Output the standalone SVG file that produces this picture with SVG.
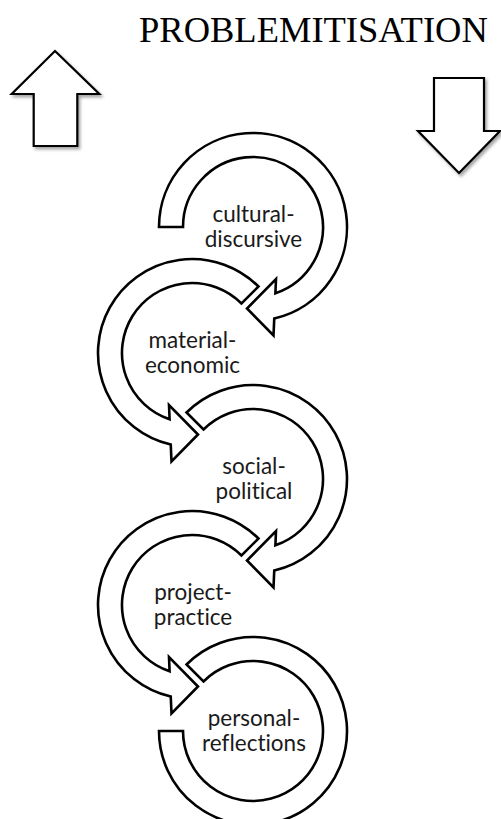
<svg xmlns="http://www.w3.org/2000/svg" width="501" height="819" viewBox="0 0 501 819">
  <style>
    .ring { fill: #fff; stroke: #000; stroke-width: 2.6; stroke-linejoin: miter; }
    .block { fill: #fff; stroke: #000; stroke-width: 2.2; stroke-linejoin: miter; }
    .label { font-family: Lato, "Liberation Sans", sans-serif; font-size: 22.5px; fill: #1a1a1a; text-anchor: middle; font-variant-ligatures: none; font-feature-settings: "liga" 0, "clig" 0; }
    .title { font-family: "Liberation Serif", "Times New Roman", serif; font-size: 36.5px; fill: #000; }
  </style>
  <defs>
    <filter id="soft-shadow" x="-20%" y="-20%" width="150%" height="150%">
      <feDropShadow dx="2" dy="2.5" stdDeviation="1.6" flood-color="#000" flood-opacity="0.35"/>
    </filter>
    <!-- ring that turns clockwise, tail cut radially at 225 degrees, head at the bottom -->
    <path id="ring-cw" d="M -66.47 -66.47 A 94 94 0 1 1 21.25 91.57 L 20.5 108.5 L -6 81.5 L 23 52 L 22.4 66.3 A 70 70 0 1 0 -49.5 -49.5 Z"/>
  </defs>

  <rect width="501" height="819" fill="#fff"/>

  <text class="title" x="139" y="42">PROBLEMITISATION</text>

  <g id="arrow-up" filter="url(#soft-shadow)">
    <path class="block" d="M 55 51 L 99.3 94 L 77.3 94 L 77.3 146 L 33.7 146 L 33.7 94 L 11.7 94 Z"/>
  </g>
  <g id="arrow-down" filter="url(#soft-shadow)">
    <path class="block" d="M 434 78 L 484 78 L 484 131 L 500 131 L 459 173 L 418 131 L 434 131 Z"/>
  </g>

  <g id="connectors">
    <!-- cultural-discursive: tail at the left, clockwise to the head -->
    <path class="ring" transform="translate(253,227)" d="M -94 0 A 94 94 0 1 1 21.25 91.57 L 20.5 108.5 L -6 81.5 L 23 52 L 22.4 66.3 A 70 70 0 1 0 -70 0 Z"/>
    <!-- material-economic: mirrored, counter-clockwise -->
    <use href="#ring-cw" class="ring" transform="translate(192,353) scale(-1,1)"/>
    <!-- social-political -->
    <use href="#ring-cw" class="ring" transform="translate(253,479)"/>
    <!-- project-practice: mirrored -->
    <use href="#ring-cw" class="ring" transform="translate(192,605) scale(-1,1)"/>
    <!-- personal-reflections: closing arc with a flat end -->
    <path class="ring" transform="translate(253,731)" d="M -66.47 -66.47 A 94 94 0 1 1 -94 0 L -70 0 A 70 70 0 1 0 -49.5 -49.5 Z"/>
  </g>

  <g id="node-cultural-discursive">
    <text class="label" x="253.5" y="221.5">cultural-</text>
    <text class="label" x="253.5" y="247">discursive</text>
  </g>
  <g id="node-material-economic">
    <text class="label" x="192.5" y="347.5">material-</text>
    <text class="label" x="192.5" y="373">economic</text>
  </g>
  <g id="node-social-political">
    <text class="label" x="254" y="473.5">social-</text>
    <text class="label" x="254" y="499">political</text>
  </g>
  <g id="node-project-practice">
    <text class="label" x="193" y="599.5">project-</text>
    <text class="label" x="193" y="625">practice</text>
  </g>
  <g id="node-personal-reflections">
    <text class="label" x="254" y="725.5">personal-</text>
    <text class="label" x="254" y="751">reflections</text>
  </g>
</svg>
